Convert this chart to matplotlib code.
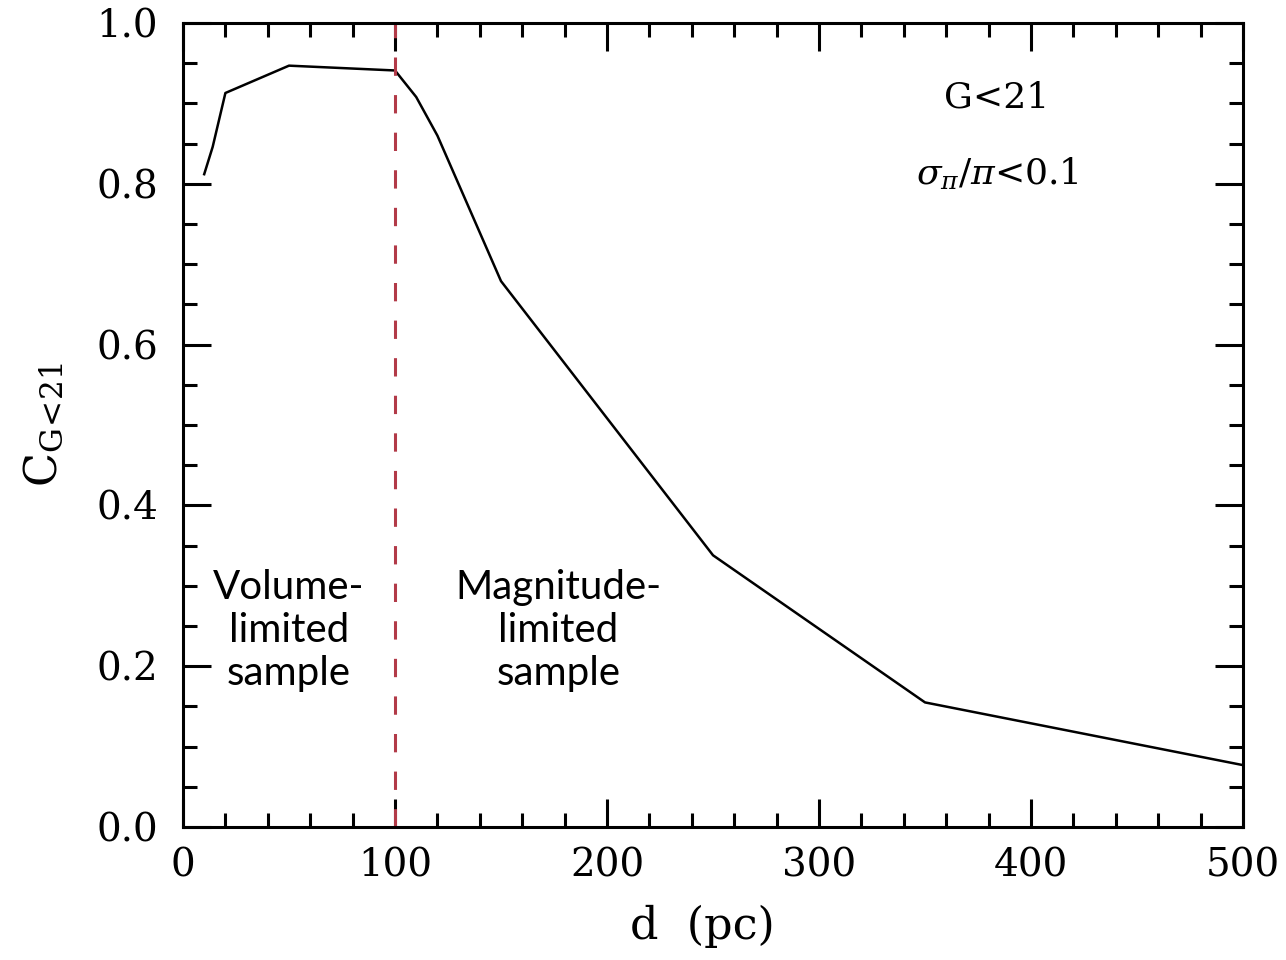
import numpy as np
import matplotlib.pyplot as plt
from matplotlib.ticker import MultipleLocator

# completeness curve for G<21, sigma_pi/pi<0.1
dist = [10, 14, 20, 50, 100, 110, 120, 150, 250, 350, 500]
completeness = [0.812, 0.846, 0.913, 0.947, 0.941, 0.908, 0.860, 0.679, 0.338, 0.155, 0.077]

d_split = 100

plt.rcParams['mathtext.fontset'] = 'dejavuserif'

fig = plt.figure(figsize=(12.86, 9.6), dpi=100)
ax = fig.add_axes([0.1423, 0.1385, 0.8243, 0.8375])

ax.plot(dist, completeness, color='black', lw=1.8)
ax.axvline(d_split, color='#b23a48', lw=2.2, dashes=(6, 6.3))

ax.set_xlim(0, 500)
ax.set_ylim(0, 1.0)
ax.xaxis.set_major_locator(MultipleLocator(100))
ax.xaxis.set_minor_locator(MultipleLocator(20))
ax.yaxis.set_major_locator(MultipleLocator(0.2))
ax.yaxis.set_minor_locator(MultipleLocator(0.05))
ax.yaxis.set_major_formatter(lambda v, p: f'{v:.1f}')

for s in ax.spines.values():
    s.set_linewidth(2.2)
ax.tick_params(which='both', direction='in', top=True, right=True, width=2.2)
ax.tick_params(which='major', length=20)
ax.tick_params(which='minor', length=10)
ax.tick_params(axis='x', which='major', pad=15)
ax.tick_params(axis='y', which='major', pad=18)
for lab in ax.get_xticklabels() + ax.get_yticklabels():
    lab.set_family('DejaVu Serif')
    lab.set_fontsize(28)

ax.set_xlabel('d  (pc)', family='DejaVu Serif', fontsize=32)
ax.xaxis.set_label_coords(0.49, -0.097)
ax.set_ylabel(r'C$_{\rm G\!<\!21}$', family='DejaVu Serif', fontsize=32)
ax.yaxis.set_label_coords(-0.11, 0.5)

ax.text(384, 0.907, 'G<21', family='DejaVu Serif', fontsize=26,
        ha='center', va='center')
ax.text(384, 0.813, r'$\sigma_\pi/\pi$<0.1', family='DejaVu Serif', fontsize=26,
        ha='center', va='center')

ax.text(50, 0.245, 'Volume-\nlimited\nsample', family='Lato', fontsize=29,
        ha='center', va='center', multialignment='center', linespacing=1.2)
ax.text(177, 0.245, 'Magnitude-\nlimited\nsample', family='Lato', fontsize=29,
        ha='center', va='center', multialignment='center', linespacing=1.2)

fig.savefig('out.png', dpi=100)
